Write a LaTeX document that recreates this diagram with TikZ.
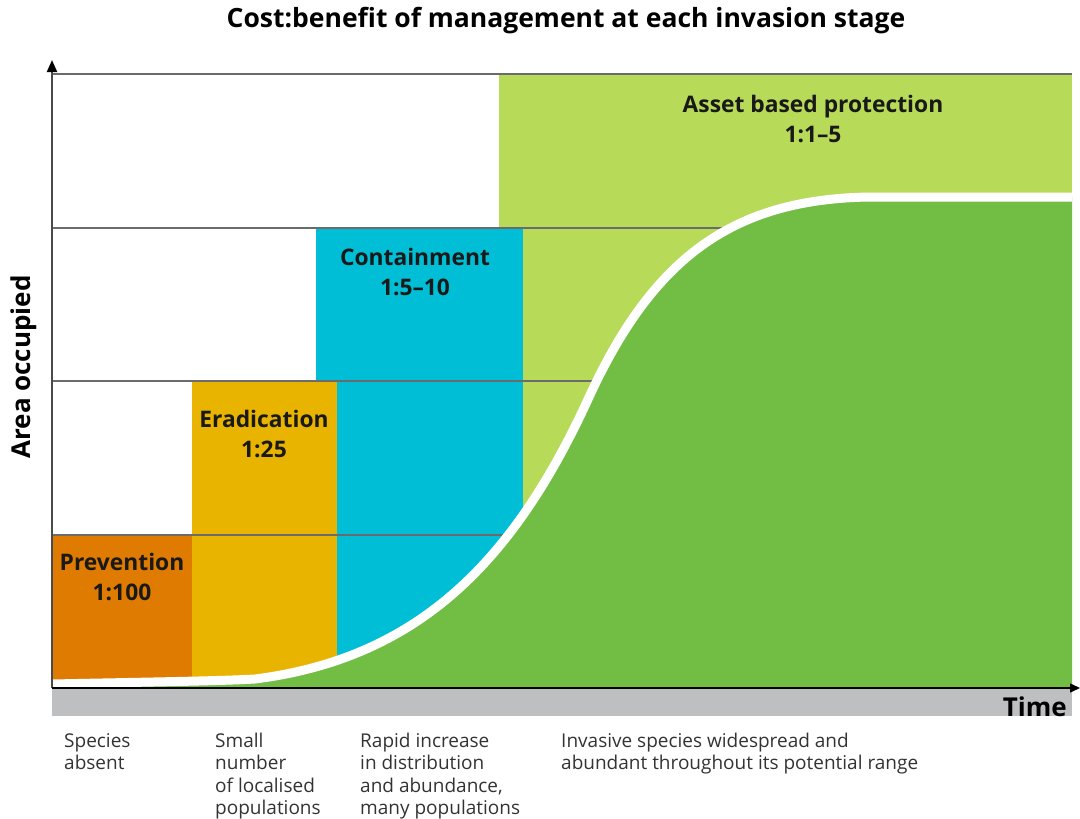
\documentclass[tikz,border=0pt]{standalone}
\usepackage{fontspec}
\setmainfont{Open Sans}
\usetikzlibrary{arrows.meta}

\definecolor{prevorange}{HTML}{DE7B00}
\definecolor{eradyellow}{HTML}{E9B400}
\definecolor{contcyan}{HTML}{00BED5}
\definecolor{assetgreen}{HTML}{B8DA59}
\definecolor{spreadgreen}{HTML}{72BE44}
\definecolor{bandgray}{HTML}{BEBFC1}
\definecolor{gridgray}{HTML}{6B6B6B}
\definecolor{axisgray}{HTML}{4A4A4A}
\definecolor{desctext}{HTML}{333333}

\tikzset{
  gridline/.style={draw=gridgray, line width=1.5pt},
  stagelabel/.style={align=center, inner sep=0pt, text=black!90,
    font=\fontsize{22.8}{29.5}\selectfont\bfseries},
  desc/.style={align=left, anchor=north west, inner sep=0pt, text=desctext,
    font=\fontsize{19}{22.3}\selectfont},
  axislabel/.style={inner sep=0pt, text=black, font=\fontsize{26}{30}\selectfont\bfseries},
}

\begin{document}
\begin{tikzpicture}[x=1pt, y=-1pt]
\useasboundingbox (0,0) rectangle (1080,819);

% title
\node[inner sep=0pt, font=\fontsize{26.5}{30}\selectfont\bfseries] (title) at (566,21)
  {Cost:benefit of management at each invasion stage};

% management stages, back to front
\fill[assetgreen] (499,74) rectangle (1072,688);
\fill[contcyan] (316,228) rectangle (523,688);
\fill[eradyellow] (192,381) rectangle (337,688);
\fill[prevorange] (52,535) rectangle (192,688);

% horizontal levels
\foreach \y in {74,228,381,535}
  \draw[gridline] (52,\y) -- (1072,\y);

% band under the time axis
\fill[bandgray] (52,688) rectangle (1072,716);

% invasion curve
\fill[spreadgreen] (52,688) -- (52,684)
  .. controls (150,682) and (220,681) .. (255,679)
  .. controls (420,658) and (515,560) .. (590,395)
  .. controls (655,255) and (735,199) .. (870,197)
  -- (1072,197) -- (1072,688) -- cycle;
\draw[white, line width=9pt] (52,684)
  .. controls (150,682) and (220,681) .. (255,679)
  .. controls (420,658) and (515,560) .. (590,395)
  .. controls (655,255) and (735,199) .. (870,197)
  -- (1072,197);

% axes
\coordinate (origin) at (52,688);
\coordinate (ytip) at (52,60);
\coordinate (xtip) at (1080,688);
\draw[axisgray, line width=2pt, -{Triangle[length=12pt,width=10pt,color=black]}] (origin) -- (ytip);
\draw[black, line width=1.5pt, -{Triangle[length=10pt,width=9pt]}] (origin) -- (xtip);

\node[axislabel, anchor=base east] (time) at (1067,716) {Time};
\node[axislabel, rotate=90] (area) at (24,367) {Area occupied};

% stage labels
\node[stagelabel] (prevention) at (122,577) {Prevention\\1:100};
\node[stagelabel] (eradication) at (264,434) {Eradication\\1:25};
\node[stagelabel] (containment) at (415,272) {Containment\\1:5–10};
\node[stagelabel] (asset) at (813,119) {Asset based protection\\1:1–5};

% stage descriptions
\node[desc] (absent) at (64,733) {Species\\absent};
\node[desc] (localised) at (215,733) {Small\\number\\of localised\\populations};
\node[desc] (rapid) at (360,733) {Rapid increase\\in distribution\\and abundance,\\many populations};
\node[desc] (widespread) at (561,733) {Invasive species widespread and\\abundant throughout its potential range};
\end{tikzpicture}
\end{document}
